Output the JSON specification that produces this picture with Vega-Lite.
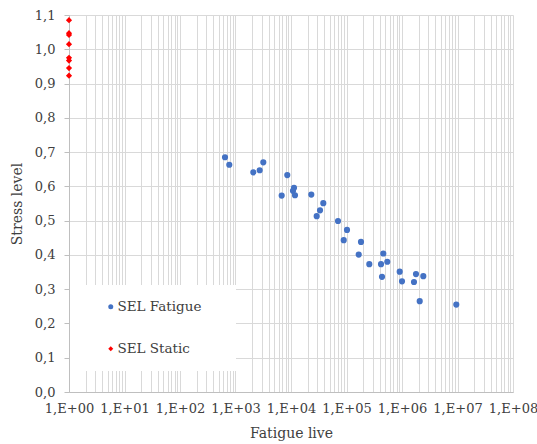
{
  "$schema": "https://vega.github.io/schema/vega-lite/v6.json",
  "width": 444,
  "height": 377,
  "autosize": {"type": "none"},
  "padding": {"left": 69, "top": 15, "right": 24, "bottom": 52},
  "background": "white",
  "config": {
    "view": {"stroke": null},
    "font": "DejaVu Serif",
    "axis": {"labelFont": "DejaVu Serif", "titleFont": "DejaVu Serif", "labelColor": "#404040", "titleColor": "#404040", "titleFontWeight": "normal", "gridColor": "#d9d9d9", "gridWidth": 1, "domainColor": "#bfbfbf", "tickColor": "#bfbfbf"}
  },
  "data": {
    "values": [
      {"life": 1, "stress": 1.085, "series": "SEL Static"},
      {"life": 1, "stress": 1.047, "series": "SEL Static"},
      {"life": 1, "stress": 1.042, "series": "SEL Static"},
      {"life": 1, "stress": 1.015, "series": "SEL Static"},
      {"life": 1, "stress": 0.975, "series": "SEL Static"},
      {"life": 1, "stress": 0.967, "series": "SEL Static"},
      {"life": 1, "stress": 0.945, "series": "SEL Static"},
      {"life": 1, "stress": 0.923, "series": "SEL Static"},
      {"life": 647, "stress": 0.685, "series": "SEL Fatigue"},
      {"life": 773, "stress": 0.663, "series": "SEL Fatigue"},
      {"life": 2094, "stress": 0.641, "series": "SEL Fatigue"},
      {"life": 2729, "stress": 0.647, "series": "SEL Fatigue"},
      {"life": 3170, "stress": 0.670, "series": "SEL Fatigue"},
      {"life": 8570, "stress": 0.633, "series": "SEL Fatigue"},
      {"life": 6795, "stress": 0.573, "series": "SEL Fatigue"},
      {"life": 11330, "stress": 0.596, "series": "SEL Fatigue"},
      {"life": 10860, "stress": 0.587, "series": "SEL Fatigue"},
      {"life": 11800, "stress": 0.574, "series": "SEL Fatigue"},
      {"life": 23220, "stress": 0.576, "series": "SEL Fatigue"},
      {"life": 38200, "stress": 0.551, "series": "SEL Fatigue"},
      {"life": 33340, "stress": 0.530, "series": "SEL Fatigue"},
      {"life": 29040, "stress": 0.513, "series": "SEL Fatigue"},
      {"life": 70300, "stress": 0.499, "series": "SEL Fatigue"},
      {"life": 102100, "stress": 0.473, "series": "SEL Fatigue"},
      {"life": 89100, "stress": 0.443, "series": "SEL Fatigue"},
      {"life": 182500, "stress": 0.438, "series": "SEL Fatigue"},
      {"life": 166000, "stress": 0.401, "series": "SEL Fatigue"},
      {"life": 257600, "stress": 0.373, "series": "SEL Fatigue"},
      {"life": 460300, "stress": 0.404, "series": "SEL Fatigue"},
      {"life": 418800, "stress": 0.373, "series": "SEL Fatigue"},
      {"life": 543300, "stress": 0.380, "series": "SEL Fatigue"},
      {"life": 436300, "stress": 0.336, "series": "SEL Fatigue"},
      {"life": 909500, "stress": 0.351, "series": "SEL Fatigue"},
      {"life": 1000000, "stress": 0.323, "series": "SEL Fatigue"},
      {"life": 1786000, "stress": 0.344, "series": "SEL Fatigue"},
      {"life": 1644000, "stress": 0.321, "series": "SEL Fatigue"},
      {"life": 2421000, "stress": 0.338, "series": "SEL Fatigue"},
      {"life": 2085000, "stress": 0.265, "series": "SEL Fatigue"},
      {"life": 9510000, "stress": 0.255, "series": "SEL Fatigue"}
    ]
  },
  "mark": {"type": "point", "filled": true, "size": 38, "opacity": 1},
  "encoding": {
    "x": {
      "field": "life", "type": "quantitative",
      "scale": {"type": "log", "domain": [1, 100000000], "nice": false},
      "axis": {
        "title": "Fatigue live", "titleFontSize": 14, "titlePadding": 11,
        "labelFontSize": 13, "labelPadding": 10, "tickSize": 0,
        "labelOverlap": false, "labelFlush": false, "labelBound": false,
        "values": [1,2,3,4,5,6,7,8,9,10,20,30,40,50,60,70,80,90,100,200,300,400,500,600,700,800,900,1000,2000,3000,4000,5000,6000,7000,8000,9000,10000,20000,30000,40000,50000,60000,70000,80000,90000,100000,200000,300000,400000,500000,600000,700000,800000,900000,1000000,2000000,3000000,4000000,5000000,6000000,7000000,8000000,9000000,10000000,20000000,30000000,40000000,50000000,60000000,70000000,80000000,90000000,100000000],
        "labelExpr": "(abs(log(datum.value)/LN10 - round(log(datum.value)/LN10)) < 0.000001) ? '1,E+0' + round(log(datum.value)/LN10) : ''"
      }
    },
    "y": {
      "field": "stress", "type": "quantitative",
      "scale": {"domain": [0, 1.1], "nice": false, "zero": true},
      "axis": {
        "title": "Stress level", "titleFontSize": 14, "titlePadding": 10,
        "labelFontSize": 13, "labelPadding": 9, "tickSize": 5,
        "values": [0, 0.1, 0.2, 0.3, 0.4, 0.5, 0.6, 0.7, 0.8, 0.9, 1.0, 1.1],
        "labelExpr": "replace(format(datum.value, '.1f'), '.', ',')"
      }
    },
    "color": {
      "field": "series", "type": "nominal",
      "scale": {"domain": ["SEL Fatigue", "SEL Static"], "range": ["#4472c4", "#ff0000"]},
      "legend": {
        "title": "\u2800", "titleOrient": "right", "titlePadding": 9, "titleFontSize": 13.5, "titleColor": "white",
        "orient": "none", "legendX": 1, "legendY": 270,
        "fillColor": "white", "padding": 15, "symbolOffset": 19,
        "labelFontSize": 13.5, "labelFont": "DejaVu Serif", "labelColor": "#404040",
        "symbolSize": 25, "rowPadding": 27, "labelOffset": 0
      }
    },
    "shape": {
      "field": "series", "type": "nominal",
      "scale": {"domain": ["SEL Fatigue", "SEL Static"], "range": ["circle", "diamond"]}
    }
  }
}
